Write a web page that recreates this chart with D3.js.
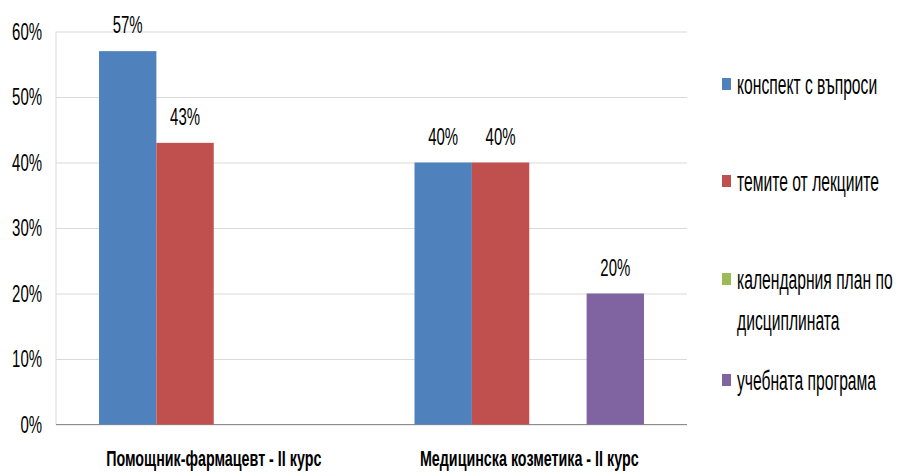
<!DOCTYPE html>
<html>
<head>
<meta charset="utf-8">
<script src="https://cdnjs.cloudflare.com/ajax/libs/d3/7.8.5/d3.min.js"></script>
<style>
  body { margin: 0; background: #fff; }
  svg text { font-family: "Liberation Sans", Arial, sans-serif; fill: #000; }
  .grid line { stroke: #d9d9d9; }
  .grid .domain { display: none; }
</style>
</head>
<body>
<div class="visual"><svg></svg></div>
<script>
"use strict";

var width = 905,
    height = 474;

var categories = ["Помощник-фармацевт - II курс", "Медицинска козметика - II курс"],
    series = ["конспект с въпроси", "темите от лекциите", "календарния план по дисциплината", "учебната програма"],
    legendLines = [["конспект с въпроси"], ["темите от лекциите"], ["календарния план по", "дисциплината"], ["учебната програма"]],
    colors = ["#4F81BD", "#C0504D", "#9BBB59", "#8064A2"],
    konspekt = [57, 40],
    temi = [43, 40],
    kalendar = [0, 0],
    programa = [0, 20],
    yTicks = [0, 10, 20, 30, 40, 50, 60];

var values = [konspekt, temi, kalendar, programa];

var plot = { left: 56, right: 687, top: 31.5, bottom: 424.5 };
var narrow = 0.65;   // the original uses a condensed face

var svg = d3.select("svg")
    .attr("width", width)
    .attr("height", height);

var x0 = d3.scaleBand()
    .domain(categories)
    .range([plot.left, plot.right]);

var x1 = d3.scaleBand()
    .domain(series)
    .range([0, x0.bandwidth()])
    .paddingOuter(0.75);

var y = d3.scaleLinear()
    .domain([0, 60])
    .range([plot.bottom, plot.top]);

// squeeze a text horizontally around its anchor point
function squeezed(sel, sx) {
    return "translate(" + sel.x + "," + sel.y + ") scale(" + sx + ",1)";
}

// horizontal grid
svg.append("g")
    .attr("class", "grid")
    .attr("transform", "translate(" + plot.left + ",0)")
    .call(d3.axisRight(y).tickValues(yTicks).tickSize(plot.right - plot.left).tickFormat(""));

// y tick labels
svg.append("g")
    .selectAll("text")
    .data(yTicks)
    .enter()
    .append("text")
    .attr("transform", function (d) { return squeezed({ x: 42, y: y(d) }, narrow); })
    .attr("dy", "0.36em")
    .attr("text-anchor", "end")
    .attr("font-size", 23)
    .text(function (d) { return d + "%"; });

// axes lines
svg.append("line")
    .attr("x1", plot.left).attr("x2", plot.left)
    .attr("y1", plot.top).attr("y2", plot.bottom)
    .attr("stroke", "#d9d9d9");
svg.append("line")
    .attr("x1", plot.left).attr("x2", plot.right)
    .attr("y1", plot.bottom).attr("y2", plot.bottom)
    .attr("stroke", "#8c8c8c");

var groups = svg.selectAll(".cat")
    .data(categories)
    .enter()
    .append("g")
    .attr("class", "cat")
    .attr("transform", function (d) { return "translate(" + x0(d) + ",0)"; });

var bars = groups.selectAll(".bar")
    .data(function (d, ci) {
        return series.map(function (s, si) { return { s: s, si: si, v: values[si][ci] }; });
    })
    .enter();

bars.append("rect")
    .attr("class", "bar")
    .attr("x", function (d) { return x1(d.s); })
    .attr("width", x1.bandwidth())
    .attr("y", function (d) { return y(d.v); })
    .attr("height", function (d) { return y(0) - y(d.v); })
    .attr("fill", function (d) { return colors[d.si]; });

bars.filter(function (d) { return d.v > 0; })
    .append("text")
    .attr("transform", function (d) {
        return squeezed({ x: x1(d.s) + x1.bandwidth() / 2, y: y(d.v) - 18 }, narrow);
    })
    .attr("text-anchor", "middle")
    .attr("font-size", 23)
    .text(function (d) { return d.v + "%"; });

// category labels
svg.append("g")
    .selectAll("text")
    .data(categories)
    .enter()
    .append("text")
    .attr("transform", function (d) {
        return squeezed({ x: x0(d) + x0.bandwidth() / 2, y: 466 }, narrow);
    })
    .attr("text-anchor", "middle")
    .attr("font-size", 22)
    .attr("font-weight", "bold")
    .text(function (d) { return d; });

// legend
var legendY = [86, 183, 281, 382];
var legend = svg.append("g")
    .selectAll("g")
    .data(series)
    .enter()
    .append("g")
    .attr("transform", function (d, i) { return "translate(722," + legendY[i] + ")"; });

legend.append("rect")
    .attr("x", 0)
    .attr("y", -8)
    .attr("width", 9)
    .attr("height", 12)
    .attr("fill", function (d, i) { return colors[i]; });

legend.append("g")
    .attr("transform", squeezed({ x: 15, y: 0 }, 0.58))
    .append("text")
    .attr("font-size", 27)
    .selectAll("tspan")
    .data(function (d, i) { return legendLines[i]; })
    .enter()
    .append("tspan")
    .attr("x", 0)
    .attr("y", function (d, j) { return j * 41; })
    .attr("dy", "0.3em")
    .text(function (d) { return d; });
</script>
</body>
</html>
